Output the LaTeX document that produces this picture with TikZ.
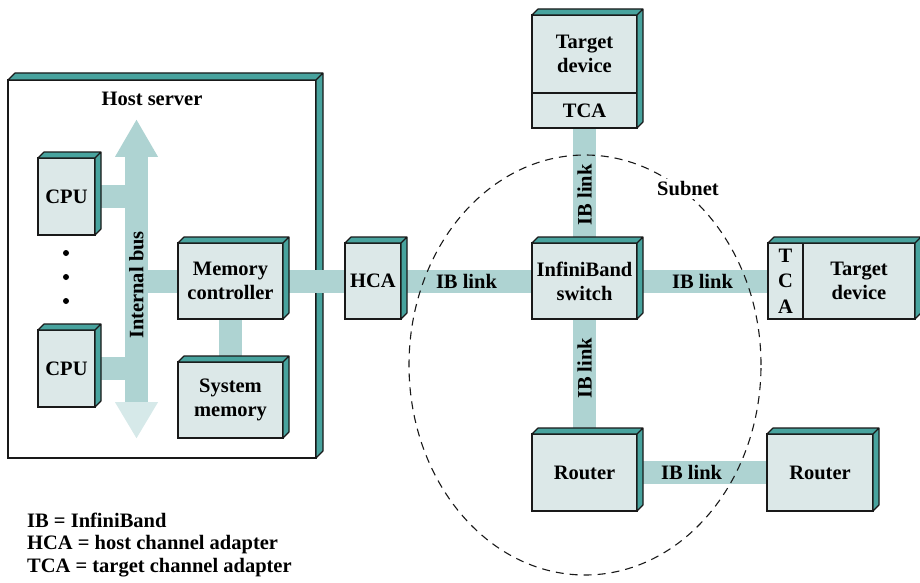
\documentclass[tikz,border=0pt]{standalone}
\usepackage{fontspec}
\setmainfont{Liberation Serif}
\usetikzlibrary{positioning,shapes.geometric}
\definecolor{boxfront}{RGB}{220,232,232}
\definecolor{boxside}{RGB}{72,163,158}
\definecolor{linkfill}{RGB}{174,211,210}
\pgfdeclarelayer{back}
\pgfdeclarelayer{wire}
\pgfsetlayers{back,wire,main}
% top and right faces of a box (depth, top-left node, bottom-right node)
\newcommand\boxfaces[3][6]{%
  \path (#2.north west) coordinate (fnw) (#3.east |- #2.north) coordinate (fne) (#3.south east) coordinate (fse);
  \filldraw[face] (fnw) -- ++(#1,-#1) -- ([shift={(#1,-#1)}]fne) -- ([shift={(#1,-#1)}]fse) -- (fse) -- (fne) -- cycle
    (fne) -- ++(#1,-#1);}

\begin{document}
\begin{tikzpicture}[x=1pt,y=-1pt,font=\bfseries\fontsize{20.5}{24}\selectfont,
  block/.style={draw=black!90,fill=boxfront,line width=1.1pt,inner sep=0pt,outer sep=0pt,align=center},
  face/.style={draw=black!90,fill=boxside,line width=1.1pt,line join=round},
  ibl/.style={draw=linkfill,line width=23pt},
  tag/.style={inner sep=0pt}]
\useasboundingbox (0,0) rectangle (920,583);

% host server
\begin{pgfonlayer}{back}
\node[block,fill=white,minimum width=308pt,minimum height=378pt] (host) at (162,269) {};
\boxfaces[7]{host}{host}
\end{pgfonlayer}
\node[tag] (hostlbl) at (152,99) {Host server};

% boxes
\node[block,minimum width=57pt,minimum height=77pt] (cpuA) at (66.5,196.5) {CPU};
\node[block,minimum width=57pt,minimum height=77pt] (cpuB) at (66.5,368.5) {CPU};
\foreach \y in {253,277,301} \fill (66,\y) circle (3pt);
\node[block,minimum width=105pt,minimum height=76pt] (mc) at (230.5,281) {Memory\\controller};
\node[block,minimum width=105pt,minimum height=76pt] (sysmem) at (230.5,400) {System\\memory};
\node[block,minimum width=56pt,minimum height=76pt] (hca) at (373,281) {HCA};
\node[block,minimum width=105pt,minimum height=76pt] (switch) at (584.5,281) {InfiniBand\\switch};
\node[block,minimum width=105pt,minimum height=78pt] (tgtA) at (584.5,54) {Target\\device};
\node[block,minimum width=105pt,minimum height=35pt,below=0pt of tgtA] (tcaA) {TCA};
\node[block,minimum width=35pt,minimum height=76pt] (tcaB) at (785.5,281) {T\\[1.5pt]C\\[1.5pt]A};
\node[block,minimum width=112pt,minimum height=76pt,right=0pt of tcaB] (tgtB) {Target\\device};
\node[block,minimum width=105pt,minimum height=77pt] (routerA) at (584.5,472.5) {Router};
\node[block,minimum width=106pt,minimum height=77pt] (routerB) at (820,472.5) {Router};

\foreach \n in {cpuA,cpuB,mc,sysmem,hca,switch,routerA,routerB} {\boxfaces{\n}{\n}}
\boxfaces{tgtA}{tcaA}
\boxfaces{tcaB}{tgtB}

% bus and links
\begin{pgfonlayer}{wire}
\node[fill=linkfill,minimum width=23pt,minimum height=245pt,inner sep=0pt] (bus) at (136.5,279.5) {};
\fill[linkfill] (bus.north) ++(-21.5,0) -- ++(21.5,-37) -- ++(21.5,37) -- cycle;
\fill[linkfill!50] (bus.south) ++(-21.5,0) -- ++(21.5,36) -- ++(21.5,-36) -- cycle;
\node[tag,rotate=90] (buslbl) at (136.5,285) {Internal bus};
\draw[ibl] (cpuA.east) -- (cpuA.east -| bus.west);
\draw[ibl] (cpuB.east) -- (cpuB.east -| bus.west);
\draw[ibl] (mc.west) -- (mc.west -| bus.east);
\draw[ibl] (mc) -- (sysmem);
\draw[ibl] (mc) -- (hca);
\draw[ibl] (hca) -- node[tag] (lnkA) {IB link} (switch);
\draw[ibl] (switch) -- node[tag,rotate=90,pos=.42] (lnkB) {IB link} (tcaA);
\draw[ibl] (switch) -- node[tag] (lnkC) {IB link} (tcaB);
\draw[ibl] (switch) -- node[tag,rotate=90,pos=.43] (lnkD) {IB link} (routerA);
\draw[ibl] (routerA) -- node[tag,pos=.42] (lnkE) {IB link} (routerB);
\end{pgfonlayer}

% subnet
\node[ellipse,draw=black!90,line width=1.1pt,dash pattern=on 8pt off 6pt,minimum width=352pt,minimum height=420pt,inner sep=0pt] (subnet) at (585,365) {};
\node[fill=white,inner sep=3pt] (subnetlbl) at (688,189) {Subnet};

% legend
\node[anchor=west,align=left,inner sep=0pt,font=\bfseries\fontsize{20.5}{22.5}\selectfont] (legend) at (27,545) {IB = InfiniBand\\HCA = host channel adapter\\TCA = target channel adapter};
\end{tikzpicture}
\end{document}
